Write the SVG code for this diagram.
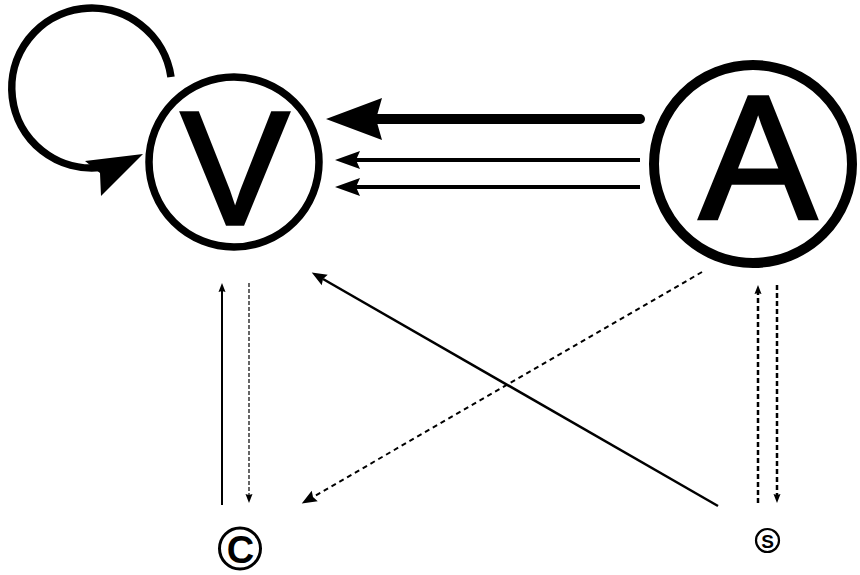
<svg xmlns="http://www.w3.org/2000/svg" width="860" height="575" viewBox="0 0 860 575">
  <style>
    .node { fill: none; stroke: #000; }
    .label { font-family: "Liberation Sans", Arial, sans-serif; fill: #000; text-anchor: middle; }
    .big { stroke: #000; stroke-width: 3.5; stroke-linejoin: miter; }
    .edge { fill: none; stroke: #000; }
    .dash { stroke-dasharray: 5 3; }
  </style>
  <defs>
    <!-- heads are anchored at their notch; the tip points along the path direction -->
    <marker id="headBig" markerUnits="userSpaceOnUse" viewBox="-10 -24 64 48" markerWidth="64" markerHeight="48" refX="0" refY="0" orient="auto">
      <path d="M50,0 L-6,-21 L0,0 L-6,21 Z" fill="#000"/>
    </marker>
    <marker id="headMid" markerUnits="userSpaceOnUse" viewBox="-6 -11 30 22" markerWidth="30" markerHeight="22" refX="0" refY="0" orient="auto">
      <path d="M21,0 L-4,-9 L0,0 L-4,9 Z" fill="#000"/>
    </marker>
    <marker id="headDiag" markerUnits="userSpaceOnUse" viewBox="-4 -8 20 16" markerWidth="20" markerHeight="16" refX="0" refY="0" orient="auto">
      <path d="M13,0 L-2,-6 L0,0 L-2,6 Z" fill="#000"/>
    </marker>
    <marker id="headSmall" markerUnits="userSpaceOnUse" viewBox="-2 -5 12 10" markerWidth="12" markerHeight="10" refX="0" refY="0" orient="auto">
      <path d="M8,0 L-1,-3.5 L0,0 L-1,3.5 Z" fill="#000"/>
    </marker>
  </defs>

  <g id="connectors">
    <!-- self loop on V -->
    <path class="edge" d="M171,77 A80,80 0 1 0 100.4,167.6" stroke-width="7.5"/>
    <polygon points="143,154 85,161 100,173 101,196" fill="#000"/>

    <!-- A to V -->
    <line class="edge" x1="640" y1="119" x2="376" y2="119" stroke-width="10" stroke-linecap="round" marker-end="url(#headBig)"/>
    <line class="edge" x1="640" y1="160" x2="356" y2="160" stroke-width="4" marker-end="url(#headMid)"/>
    <line class="edge" x1="640" y1="187" x2="356" y2="187" stroke-width="4" marker-end="url(#headMid)"/>

    <!-- C and V -->
    <line class="edge" x1="222" y1="505" x2="222" y2="291" stroke-width="2" marker-end="url(#headSmall)"/>
    <line class="edge" x1="249" y1="283" x2="249" y2="495" stroke-width="1.2" stroke="#333" stroke-dasharray="4 2" marker-end="url(#headSmall)"/>

    <!-- S and A -->
    <line class="edge dash" x1="758" y1="503" x2="758" y2="293" stroke-width="2.5" marker-end="url(#headSmall)"/>
    <line class="edge dash" x1="777" y1="285" x2="777" y2="495" stroke-width="2.5" marker-end="url(#headSmall)"/>

    <!-- S to V -->
    <line class="edge" x1="718" y1="506" x2="323" y2="279" stroke-width="2.5" marker-end="url(#headDiag)"/>

    <!-- A to C -->
    <line class="edge" x1="702" y1="272" x2="313" y2="497" stroke-width="2" stroke-dasharray="5 4" marker-end="url(#headDiag)"/>
  </g>

  <g id="node-V">
    <circle class="node" cx="234" cy="162" r="85" stroke-width="7.5"/>
    <text class="label big" x="235" y="224" font-size="162">V</text>
  </g>

  <g id="node-A">
    <circle class="node" cx="753" cy="164" r="99" stroke-width="10"/>
    <text class="label big" x="758" y="219" font-size="176">A</text>
  </g>

  <g id="node-C">
    <circle class="node" cx="240" cy="548.5" r="20.5" stroke-width="3"/>
    <text class="label" x="240.5" y="562.5" font-size="38" font-weight="bold">C</text>
  </g>

  <g id="node-S">
    <circle class="node" cx="767.5" cy="540.5" r="11.5" stroke-width="2.2"/>
    <text class="label" x="767.5" y="547.5" font-size="19" font-weight="bold">S</text>
  </g>
</svg>
